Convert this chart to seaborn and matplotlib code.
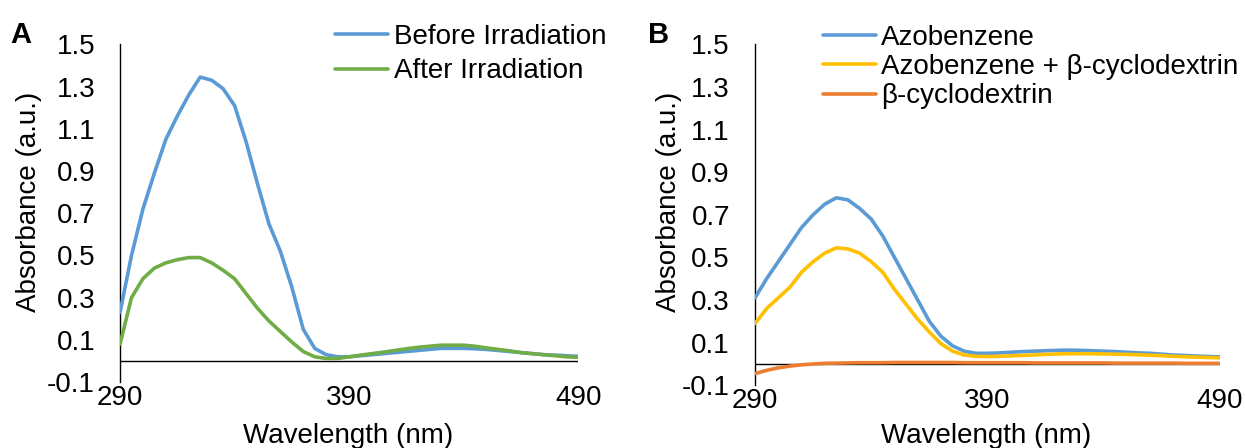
import numpy as np
import pandas as pd
import matplotlib
matplotlib.use("Agg")
import matplotlib.pyplot as plt
import seaborn as sns

wavelength = list(range(290, 491, 5))

before_irr = [0.23, 0.50, 0.72, 0.89, 1.05, 1.16, 1.26, 1.345, 1.33, 1.29, 1.21, 1.04, 0.84, 0.65,
              0.52, 0.35, 0.15, 0.06, 0.03, 0.02, 0.02, 0.025, 0.03, 0.035, 0.04, 0.045, 0.05,
              0.055, 0.06, 0.06, 0.06, 0.058, 0.055, 0.05, 0.045, 0.04, 0.035, 0.03, 0.028, 0.025, 0.022]
after_irr = [0.08, 0.30, 0.39, 0.44, 0.465, 0.48, 0.49, 0.49, 0.465, 0.43, 0.39, 0.32, 0.25, 0.19,
             0.14, 0.09, 0.045, 0.02, 0.012, 0.012, 0.02, 0.028, 0.035, 0.042, 0.05, 0.058, 0.065,
             0.07, 0.075, 0.075, 0.075, 0.07, 0.062, 0.055, 0.048, 0.04, 0.035, 0.03, 0.025, 0.02, 0.018]

azo = [0.31, 0.40, 0.48, 0.56, 0.64, 0.70, 0.75, 0.78, 0.77, 0.73, 0.68, 0.60, 0.50, 0.40,
       0.30, 0.20, 0.13, 0.085, 0.06, 0.05, 0.05, 0.052, 0.055, 0.058, 0.06, 0.062, 0.064,
       0.065, 0.064, 0.062, 0.06, 0.058, 0.055, 0.052, 0.05, 0.046, 0.042, 0.04, 0.037, 0.035, 0.033]
azo_cd = [0.19, 0.26, 0.31, 0.36, 0.43, 0.48, 0.52, 0.545, 0.54, 0.52, 0.48, 0.43, 0.35, 0.28,
          0.21, 0.15, 0.095, 0.06, 0.042, 0.036, 0.035, 0.036, 0.038, 0.04, 0.042, 0.045, 0.047,
          0.048, 0.048, 0.048, 0.047, 0.046, 0.045, 0.043, 0.041, 0.039, 0.036, 0.034, 0.032, 0.03, 0.029]
cd = [-0.045, -0.03, -0.018, -0.01, -0.004, 0.0, 0.003, 0.004, 0.005, 0.006, 0.006, 0.006, 0.007,
      0.007, 0.007, 0.007, 0.007, 0.007, 0.006, 0.006, 0.006, 0.006, 0.006, 0.006, 0.005, 0.005,
      0.005, 0.005, 0.005, 0.005, 0.005, 0.004, 0.004, 0.004, 0.004, 0.004, 0.004, 0.003, 0.003, 0.003, 0.003]

x_ticks = [290, 390, 490]
y_ticks = [-0.1, 0.1, 0.3, 0.5, 0.7, 0.9, 1.1, 1.3, 1.5]
y_tick_labels = ["-0.1", "0.1", "0.3", "0.5", "0.7", "0.9", "1.1", "1.3", "1.5"]

sns.set_theme(style="white")
plt.rcParams["font.family"] = ["Liberation Sans", "DejaVu Sans"]
plt.rcParams.update({"text.color": "black", "axes.labelcolor": "black",
                     "xtick.color": "black", "ytick.color": "black"})

FS = 20
fig = plt.figure(figsize=(12.45, 4.48), dpi=100)
axA = fig.add_axes([0.0964, 0.147, 0.368, 0.754])
axB = fig.add_axes([0.6064, 0.140, 0.3735, 0.761])

dfA = pd.DataFrame({"wl": wavelength, "Before Irradiation": before_irr, "After Irradiation": after_irr})
dfB = pd.DataFrame({"wl": wavelength, "Azobenzene": azo, "Azobenzene + β-cyclodextrin": azo_cd,
                    "β-cyclodextrin": cd})

series_A = [("Before Irradiation", "#5B9BD5"), ("After Irradiation", "#70AD47")]
series_B = [("Azobenzene", "#5B9BD5"), ("Azobenzene + β-cyclodextrin", "#FFC000"),
            ("β-cyclodextrin", "#ED7D31")]

label_coords = {
    "A": {"y": (-0.170, 0.533), "x": (0.497, -0.121)},
    "B": {"y": (-0.157, 0.538), "x": (0.497, -0.111)},
}

for key, ax, df, series in [("A", axA, dfA, series_A), ("B", axB, dfB, series_B)]:
    ax.axhline(0, color="black", lw=1.0, zorder=1)
    for name, col in series:
        sns.lineplot(data=df, x="wl", y=name, ax=ax, color=col, lw=2.6, label=name, zorder=3)
    ax.set_xlim(290, 490)
    ax.set_ylim(-0.1, 1.5)
    ax.set_xticks(x_ticks)
    ax.set_xticklabels([str(t) for t in x_ticks], fontsize=FS)
    ax.set_yticks(y_ticks)
    ax.set_yticklabels(y_tick_labels, fontsize=FS)
    ax.tick_params(axis="both", length=0, labelcolor="black")
    ax.tick_params(axis="y", pad=18)
    ax.tick_params(axis="x", pad=2)
    for s in ["top", "right", "bottom"]:
        ax.spines[s].set_visible(False)
    ax.spines["left"].set_color("black")
    ax.spines["left"].set_linewidth(1.0)
    ax.set_xlabel("Wavelength (nm)", fontsize=FS, color="black")
    ax.set_ylabel("Absorbance (a.u.)", fontsize=FS, color="black")
    ax.yaxis.set_label_coords(*label_coords[key]["y"])
    ax.xaxis.set_label_coords(*label_coords[key]["x"])
    ax.xaxis.label.set_va("top")

legA = axA.legend(loc="upper left", bbox_to_anchor=(0.47, 1.06), frameon=False, fontsize=FS,
                  handlelength=1.9, handletextpad=0.2, borderpad=0, borderaxespad=0, labelspacing=0.3)
legB = axB.legend(loc="upper left", bbox_to_anchor=(0.146, 1.058), frameon=False, fontsize=FS,
                  handlelength=1.9, handletextpad=0.2, borderpad=0, borderaxespad=0, labelspacing=0.12)
for leg in (legA, legB):
    for t in leg.get_texts():
        t.set_color("black")

fig.text(10 / 1245, 1 - 35 / 448, "A", fontsize=21, fontweight="bold", va="center", ha="left")
fig.text(648 / 1245, 1 - 35 / 448, "B", fontsize=21, fontweight="bold", va="center", ha="left")

fig.savefig("out.png", dpi=100)
